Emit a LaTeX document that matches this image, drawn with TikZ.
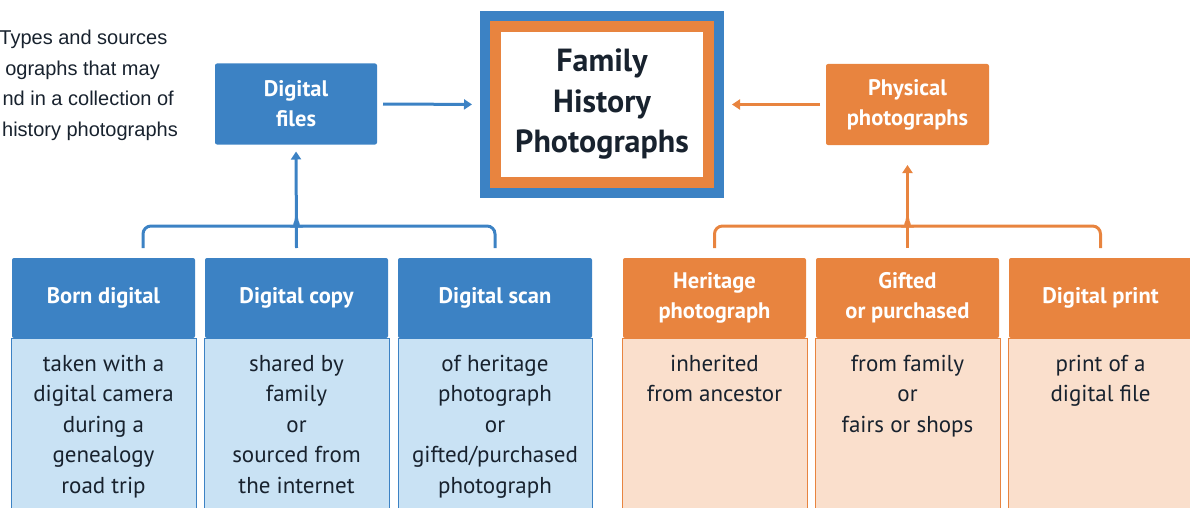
\documentclass[tikz,border=0pt]{standalone}
\usepackage{fontspec}
\setmainfont{PT Sans}
\newfontfamily\capfont{Liberation Sans}
\usetikzlibrary{positioning}
\usetikzlibrary{arrows.meta}

\definecolor{dblue}{HTML}{3C82C4}
\definecolor{dorange}{HTML}{E8843F}
\definecolor{lblue}{HTML}{C9E2F4}
\definecolor{lorange}{HTML}{FADFCC}
\definecolor{ink}{HTML}{18222E}

\newcommand{\coltext}[1]{\parbox[t][160pt][t]{185pt}{\centering #1}}

\tikzset{
  head/.style={rectangle, rounded corners=2pt, minimum width=183pt, minimum height=80pt,
    inner sep=0pt, outer sep=0pt, text=white, align=center,
    font=\bfseries\fontsize{22.5}{30}\selectfont},
  bluehead/.style={head, fill=dblue},
  orangehead/.style={head, fill=dorange},
  body/.style={rectangle, minimum width=183pt, inner xsep=0pt, inner ysep=17pt,
    outer sep=0pt, line width=1pt, text=ink, font=\fontsize{23}{30.5}\selectfont},
  bluebody/.style={body, fill=lblue, draw=dblue},
  orangebody/.style={body, fill=lorange, draw=dorange},
  bluelink/.style={draw=dblue, line width=3pt},
  orangelink/.style={draw=dorange, line width=3pt},
  tip/.style={-{Triangle[length=8pt,width=10pt]}}
}

\begin{document}
\begin{tikzpicture}[x=1pt, y=-1pt]
\clip (0,0) rectangle (1190,508);

% Caption
\foreach \t/\x/\y [count=\i] in {Types and sources/167.5/45, ographs that may/160/75.5,
    nd in a collection of/174/106, history photographs/178/136.5}
  \node[anchor=base east, inner sep=0pt, font=\capfont\fontsize{20}{30}\selectfont,
    text=ink] (cap\i) at (\x,\y) {\t};

% Top nodes
\node[fill=white, draw=dorange, line width=11pt, preaction={draw=dblue, line width=31pt},
  minimum width=213pt, minimum height=156pt, align=center, text=ink,
  font=\bfseries\fontsize{32}{40.5}\selectfont] (hub) at (602,104.5)
  {Family\\History\\Photographs};
\node[bluehead, minimum width=162pt, minimum height=81pt] (dfiles) at (296,104)
  {Digital\\files};
\node[orangehead, minimum width=163pt, minimum height=81pt] (prints) at (907.5,104.5)
  {Physical\\photographs};

% Column heads
\node[bluehead, anchor=north west] (born) at (12,258) {Born digital};
\node[bluehead, right=10pt of born] (copy) {Digital copy};
\node[bluehead, right=10pt of copy, minimum width=194pt] (scan) {Digital scan};
\node[orangehead, right=31pt of scan] (heritage) {Heritage\\photograph};
\node[orangehead, right=10pt of heritage] (gifted) {Gifted\\or purchased};
\node[orangehead, right=10pt of gifted] (dprint) {Digital print};

% Column bodies
\node[bluebody, below=0pt of born] (bornb)
  {\coltext{taken with a\\digital camera\\during a\\genealogy\\road trip}};
\node[bluebody, below=0pt of copy] (copyb)
  {\coltext{shared by\\family\\or\\sourced from\\the internet}};
\node[bluebody, below=0pt of scan, minimum width=194pt] (scanb)
  {\coltext{of heritage\\photograph\\or\\gifted/purchased\\photograph}};
\node[orangebody, below=0pt of heritage] (heritageb)
  {\coltext{inherited\\from ancestor}};
\node[orangebody, below=0pt of gifted] (giftedb)
  {\coltext{from family\\or\\fairs or shops}};
\node[orangebody, below=0pt of dprint] (dprintb)
  {\coltext{print of a\\digital file}};

% Bracket ends
\coordinate (bl) at (143,248);
\coordinate (bm) at ([yshift=10pt]copy.north);
\coordinate (br) at ([yshift=10pt]scan.north);
\coordinate (ol) at ([yshift=10pt]heritage.north);
\coordinate (om) at ([yshift=10pt]gifted.north);
\coordinate (or) at ([yshift=10pt]dprint.north);

% Edges
\draw[bluelink, tip, shorten <=6pt, shorten >=18pt] (dfiles.east) -- (hub.west);
\draw[orangelink, tip, shorten <=6pt, shorten >=18pt] (prints.west) -- (hub.east);

\draw[bluelink, rounded corners=8pt] (bl) |- (288,226) to[out=0,in=-90] (296.5,218);
\draw[bluelink, rounded corners=8pt] (br) |- (305,226) to[out=180,in=-90] (296.5,218);
\draw[bluelink, tip, shorten >=7pt] (bm) -- (dfiles.south);

\draw[orangelink, rounded corners=8pt] (ol) |- (899,226) to[out=0,in=-90] (907.5,218);
\draw[orangelink, rounded corners=8pt] (or) |- (916,226) to[out=180,in=-90] (907.5,218);
\draw[orangelink, tip, shorten >=20pt] (om) -- (prints.south);
\end{tikzpicture}
\end{document}
